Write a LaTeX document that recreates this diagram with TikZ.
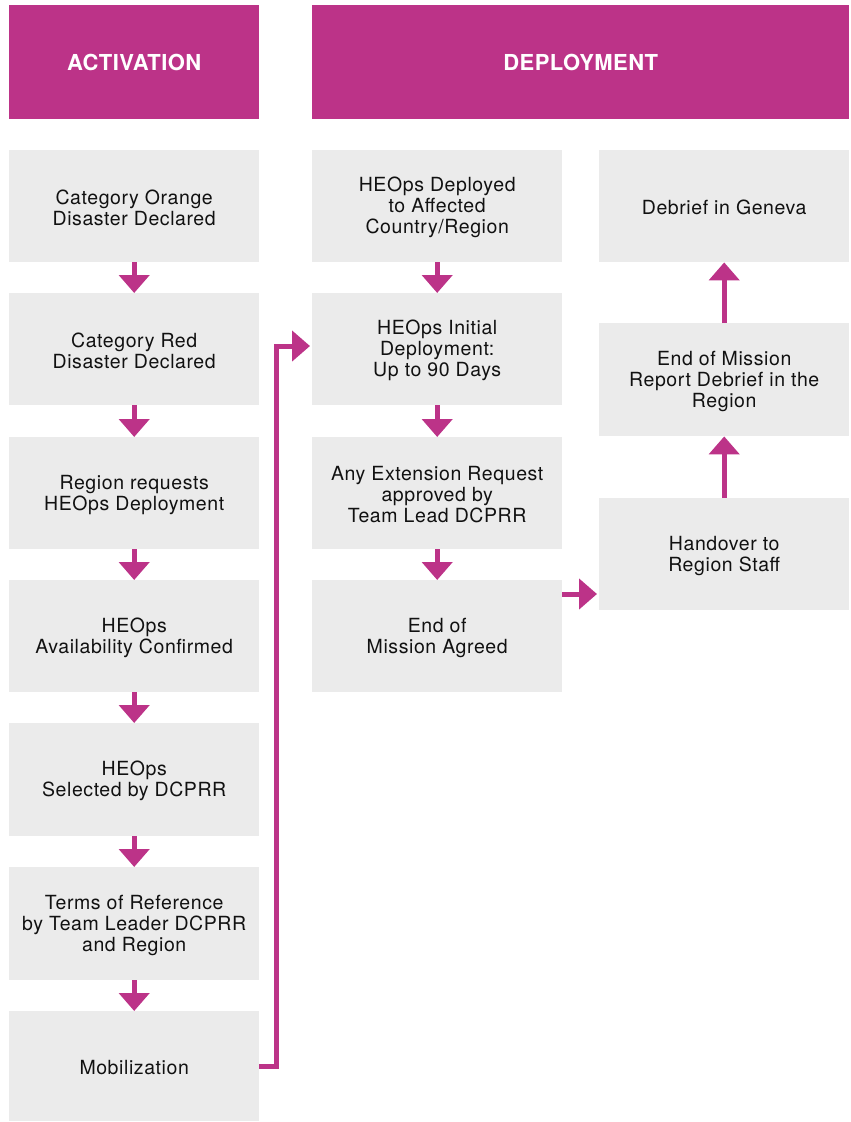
\documentclass[tikz,border=0pt]{standalone}
\usepackage{fontspec}
\setmainfont{TeX Gyre Heros}
\newfontfamily\boxfont[LetterSpace=3]{TeX Gyre Heros}
\newfontfamily\headfont[LetterSpace=2]{TeX Gyre Heros}
\usetikzlibrary{arrows.meta,positioning}
\definecolor{magenta}{HTML}{BC3388}
\definecolor{boxgray}{HTML}{EBEBEB}
\definecolor{ink}{HTML}{111111}
\tikzset{
  header/.style={fill=magenta, text=white, font=\headfont\fontsize{22}{26}\selectfont\bfseries,
    minimum height=114pt, inner sep=0pt, anchor=north west},
  stepbox/.style={fill=boxgray, text=ink, font=\boxfont\fontsize{19.5}{21}\selectfont,
    align=center, minimum width=250pt, minimum height=112pt, inner sep=0pt, anchor=north west},
  boxtext/.style={text=ink, font=\boxfont\fontsize{19.5}{21}\selectfont, align=center},
  flow/.style={draw=magenta, line width=5pt,
    -{Triangle[width=30pt,length=18pt]}},
}
% a grey step box with its label set slightly below the box centre
\newcommand\stepnode[4][]{%
  \node[stepbox,#1] (#2) at #3 {};
  \node[boxtext] (#2-label) at ([yshift=-1.5pt]#2.center) {#4};
}
\begin{document}
\begin{tikzpicture}[x=1pt,y=-1pt]
\useasboundingbox (0,0) rectangle (851,1122);

% column headers
\node[header, minimum width=250pt] (act) at (9,5) {ACTIVATION};
\node[header, minimum width=537pt] (dep) at (312,5) {DEPLOYMENT};

% activation column
\stepnode{a1}{(9,150)}{Category Orange\\Disaster Declared}
\stepnode{a2}{(9,293)}{Category Red\\Disaster Declared}
\stepnode{a3}{(9,437)}{Region requests\\HEOps Deployment}
\stepnode{a4}{(9,580)}{HEOps\\Availability Confirmed}
\stepnode[minimum height=113pt]{a5}{(9,723)}{HEOps\\Selected by DCPRR}
\stepnode[minimum height=113pt]{a6}{(9,867)}{Terms of Reference\\by Team Leader DCPRR\\and Region}
\stepnode[minimum height=110pt]{a7}{(9,1011)}{Mobilization}

% deployment column
\stepnode{d1}{(312,150)}{HEOps Deployed\\to Affected\\Country/Region}
\stepnode{d2}{(312,293)}{HEOps Initial\\Deployment:\\Up to 90 Days}
\stepnode{d3}{(312,437)}{Any Extension Request\\approved by\\Team Lead DCPRR}
\stepnode{d4}{(312,580)}{End of\\Mission Agreed}

% closing column
\stepnode{c1}{(599,150)}{Debrief in Geneva}
\stepnode[minimum height=113pt]{c2}{(599,323)}{End of Mission\\Report Debrief in the\\Region}
\stepnode{c3}{(599,498)}{Handover to\\Region Staff}

% connectors
\foreach \u/\v in {a1/a2,a2/a3,a3/a4,a4/a5,a5/a6,a6/a7,d1/d2,d2/d3,d3/d4}
  \draw[flow] (\u.south) -- (\v.north);
\draw[flow] (c3.north) -- (c2.south);
\draw[flow] (c2.north) -- (c1.south);

\coordinate (mobturn) at (276,346);
\draw[flow, line join=miter, shorten >=2pt] (a7.east) -| (mobturn) -- (mobturn -| d2.west);

\coordinate (handy) at (0,594);
\draw[flow, shorten >=2pt] (d4.east |- handy) -- (c3.west |- handy);
\end{tikzpicture}
\end{document}
